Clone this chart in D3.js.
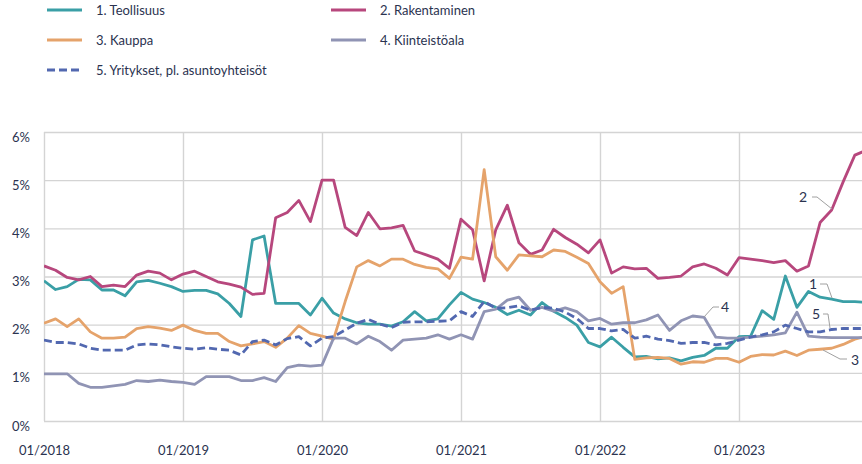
<!DOCTYPE html>
<html lang="fi">
<head>
  <meta charset="UTF-8">
  <title>Yritysten korot toimialoittain</title>
  <script src="https://d3js.org/d3.v7.min.js"></script>
  <style>
    body { margin: 0; padding: 0; background: white; overflow: hidden; }
    svg { display: block; font-family: Lato, "Open Sans", sans-serif; }
  </style>
</head>
<body>
  <svg id="chart" width="862" height="464"></svg>
  <script>
    // Monthly values, 01/2018 onwards (percent)
    const teollisuus = [2.91, 2.73, 2.79, 2.94, 2.93, 2.72, 2.72, 2.60, 2.89, 2.92, 2.86, 2.79,
      2.69, 2.71, 2.71, 2.64, 2.44, 2.17, 3.76, 3.84, 2.44, 2.44, 2.44, 2.20,
      2.55, 2.24, 2.12, 2.04, 2.01, 2.01, 1.97, 2.06, 2.27, 2.08, 2.12, 2.41,
      2.67, 2.53, 2.46, 2.36, 2.21, 2.30, 2.20, 2.46, 2.28, 2.15, 1.99, 1.63,
      1.54, 1.74, 1.53, 1.33, 1.34, 1.29, 1.31, 1.25, 1.32, 1.36, 1.51, 1.51,
      1.75, 1.76, 2.29, 2.11, 3.01, 2.36, 2.69, 2.57, 2.53, 2.48, 2.48, 2.46];
    const rakentaminen = [3.22, 3.13, 2.98, 2.93, 3.00, 2.79, 2.82, 2.79, 3.03, 3.11, 3.07, 2.93,
      3.05, 3.11, 3.00, 2.89, 2.84, 2.78, 2.63, 2.65, 4.22, 4.33, 4.58, 4.14,
      5.00, 5.00, 4.02, 3.85, 4.33, 3.99, 4.01, 4.06, 3.53, 3.45, 3.36, 3.17,
      4.19, 3.97, 2.91, 3.97, 4.48, 3.70, 3.46, 3.55, 3.98, 3.81, 3.67, 3.49,
      3.76, 3.07, 3.20, 3.16, 3.17, 2.96, 2.98, 3.01, 3.20, 3.26, 3.17, 3.03,
      3.39, 3.36, 3.33, 3.29, 3.33, 3.11, 3.22, 4.12, 4.38, 4.97, 5.52, 5.62];
    const kauppa = [2.03, 2.12, 1.96, 2.12, 1.85, 1.72, 1.72, 1.74, 1.92, 1.96, 1.93, 1.88,
      1.99, 1.88, 1.82, 1.82, 1.65, 1.56, 1.60, 1.65, 1.53, 1.72, 1.98, 1.82,
      1.76, 1.70, 2.48, 3.20, 3.33, 3.22, 3.36, 3.36, 3.25, 3.19, 3.16, 2.96,
      3.40, 3.36, 5.22, 3.41, 3.13, 3.45, 3.43, 3.41, 3.55, 3.52, 3.40, 3.27,
      2.89, 2.65, 2.79, 1.28, 1.31, 1.32, 1.30, 1.18, 1.23, 1.22, 1.30, 1.30,
      1.22, 1.34, 1.38, 1.37, 1.45, 1.36, 1.47, 1.49, 1.51, 1.59, 1.70, 1.76];
    const kiinteisto = [0.98, 0.98, 0.98, 0.78, 0.70, 0.70, 0.73, 0.76, 0.84, 0.82, 0.85, 0.82,
      0.80, 0.76, 0.92, 0.92, 0.92, 0.84, 0.84, 0.90, 0.82, 1.11, 1.16, 1.14,
      1.16, 1.72, 1.72, 1.60, 1.76, 1.65, 1.47, 1.68, 1.70, 1.72, 1.79, 1.70,
      1.79, 1.70, 2.27, 2.32, 2.51, 2.57, 2.30, 2.36, 2.28, 2.35, 2.27, 2.08,
      2.13, 2.01, 2.04, 2.04, 2.10, 2.20, 1.88, 2.08, 2.18, 2.15, 1.74, 1.72,
      1.72, 1.74, 1.76, 1.79, 1.83, 2.26, 1.76, 1.74, 1.73, 1.73, 1.73, 1.73];
    const yritykset = [1.68, 1.63, 1.63, 1.60, 1.51, 1.47, 1.47, 1.47, 1.58, 1.60, 1.58, 1.54,
      1.51, 1.49, 1.52, 1.49, 1.47, 1.37, 1.65, 1.68, 1.58, 1.71, 1.75, 1.56,
      1.72, 1.75, 1.89, 2.03, 2.11, 2.01, 1.94, 2.05, 2.06, 2.06, 2.07, 2.08,
      2.27, 2.17, 2.48, 2.34, 2.35, 2.39, 2.30, 2.36, 2.34, 2.26, 2.13, 1.92,
      1.92, 1.87, 1.90, 1.72, 1.76, 1.70, 1.67, 1.61, 1.63, 1.63, 1.58, 1.61,
      1.68, 1.74, 1.79, 1.85, 1.99, 1.92, 1.85, 1.85, 1.90, 1.92, 1.92, 1.92];

    const seriesNames = ["1. Teollisuus", "2. Rakentaminen", "3. Kauppa", "4. Kiinteistöala",
      "5. Yritykset, pl. asuntoyhteisöt"];
    const xTickLabels = ["01/2018", "01/2019", "01/2020", "01/2021", "01/2022", "01/2023"];
    const yTicks = [0, 1, 2, 3, 4, 5, 6];

    const colors = ["#3a9fa6", "#b7477d", "#e5a36b", "#9094b4", "#5268b0"];
    const allSeries = [teollisuus, rakentaminen, kauppa, kiinteisto, yritykset];

    const svg = d3.select("#chart");
    const plotLeft = 44, plotRight = 862, plotTop = 132, plotBottom = 421;

    // month index -> x, one gridline per January
    const x = d3.scaleLinear().domain([0, 60]).range([plotLeft, 739]);
    const y = d3.scaleLinear().domain([0, 6]).range([plotBottom, plotTop]);

    const textColor = "#2b3350";
    const gridColor = "#d4d4d4";

    // horizontal gridlines + labels
    const yAxis = d3.axisLeft(y).tickValues(yTicks).tickSize(-(plotRight - plotLeft))
      .tickFormat(d => d + "%");
    const gy = svg.append("g").attr("transform", `translate(${plotLeft},0)`).call(yAxis);
    gy.select(".domain").remove();
    gy.selectAll("line").attr("stroke", gridColor).attr("stroke-width", 1.4);
    gy.selectAll("text").attr("x", -14).attr("dy", "0.7em").attr("fill", textColor)
      .attr("font-size", 13).attr("font-family", "Lato, sans-serif");

    // vertical gridlines + labels
    const xAxis = d3.axisBottom(x).tickValues(d3.range(0, 61, 12)).tickSize(-(plotBottom - plotTop))
      .tickFormat((d, i) => xTickLabels[i]);
    const gx = svg.append("g").attr("transform", `translate(0,${plotBottom})`).call(xAxis);
    gx.select(".domain").remove();
    gx.selectAll("line").attr("stroke", gridColor).attr("stroke-width", 1.4);
    gx.selectAll("text").attr("y", 25).attr("dy", "0.7em").attr("fill", textColor)
      .attr("font-size", 13).attr("font-family", "Lato, sans-serif");

    svg.append("defs").append("clipPath").attr("id", "plot")
      .append("rect").attr("x", plotLeft).attr("y", 0)
      .attr("width", plotRight - plotLeft).attr("height", 464);

    const line = d3.line().x((d, i) => x(i)).y(d => y(d));
    const plot = svg.append("g").attr("clip-path", "url(#plot)");
    allSeries.forEach((s, k) => {
      plot.append("path")
        .datum(s)
        .attr("fill", "none")
        .attr("stroke", colors[k])
        .attr("stroke-width", 2.8)
        .attr("stroke-linejoin", "round")
        .attr("stroke-dasharray", k === 4 ? "8,4" : null)
        .attr("d", line);
    });

    // legend
    const legendPos = [[47, 10], [331, 10], [47, 40], [331, 40], [47, 70]];
    seriesNames.forEach((name, k) => {
      const [lx, ly] = legendPos[k];
      svg.append("line")
        .attr("x1", lx).attr("x2", lx + 35).attr("y1", ly).attr("y2", ly)
        .attr("stroke", colors[k]).attr("stroke-width", 3)
        .attr("stroke-dasharray", k === 4 ? "8,4" : null);
      svg.append("text")
        .attr("x", lx + 49).attr("y", ly).attr("dy", "0.35em")
        .attr("fill", textColor).attr("font-size", 13)
        .text(name);
    });

    // series number labels with leader lines
    const callouts = [
      { t: "1", tx: 813, ty: 284, pts: [[820, 284], [827, 284], [832, 298]] },
      { t: "2", tx: 803, ty: 197, pts: [[812, 197], [817, 197], [832, 209]] },
      { t: "3", tx: 855, ty: 360, pts: [[847, 359], [840, 359], [823, 350]] },
      { t: "4", tx: 725, ty: 307, pts: [[719, 307], [713, 307], [704, 317]] },
      { t: "5", tx: 816, ty: 314, pts: [[823, 314], [828, 314], [830, 328]] }
    ];
    callouts.forEach(c => {
      svg.append("polyline")
        .attr("points", c.pts.map(p => p.join(",")).join(" "))
        .attr("fill", "none").attr("stroke", "#a0a0a0").attr("stroke-width", 1);
      svg.append("text")
        .attr("x", c.tx).attr("y", c.ty).attr("dy", "0.35em")
        .attr("text-anchor", "middle")
        .attr("fill", textColor).attr("font-size", 14)
        .text(c.t);
    });
  </script>
</body>
</html>
